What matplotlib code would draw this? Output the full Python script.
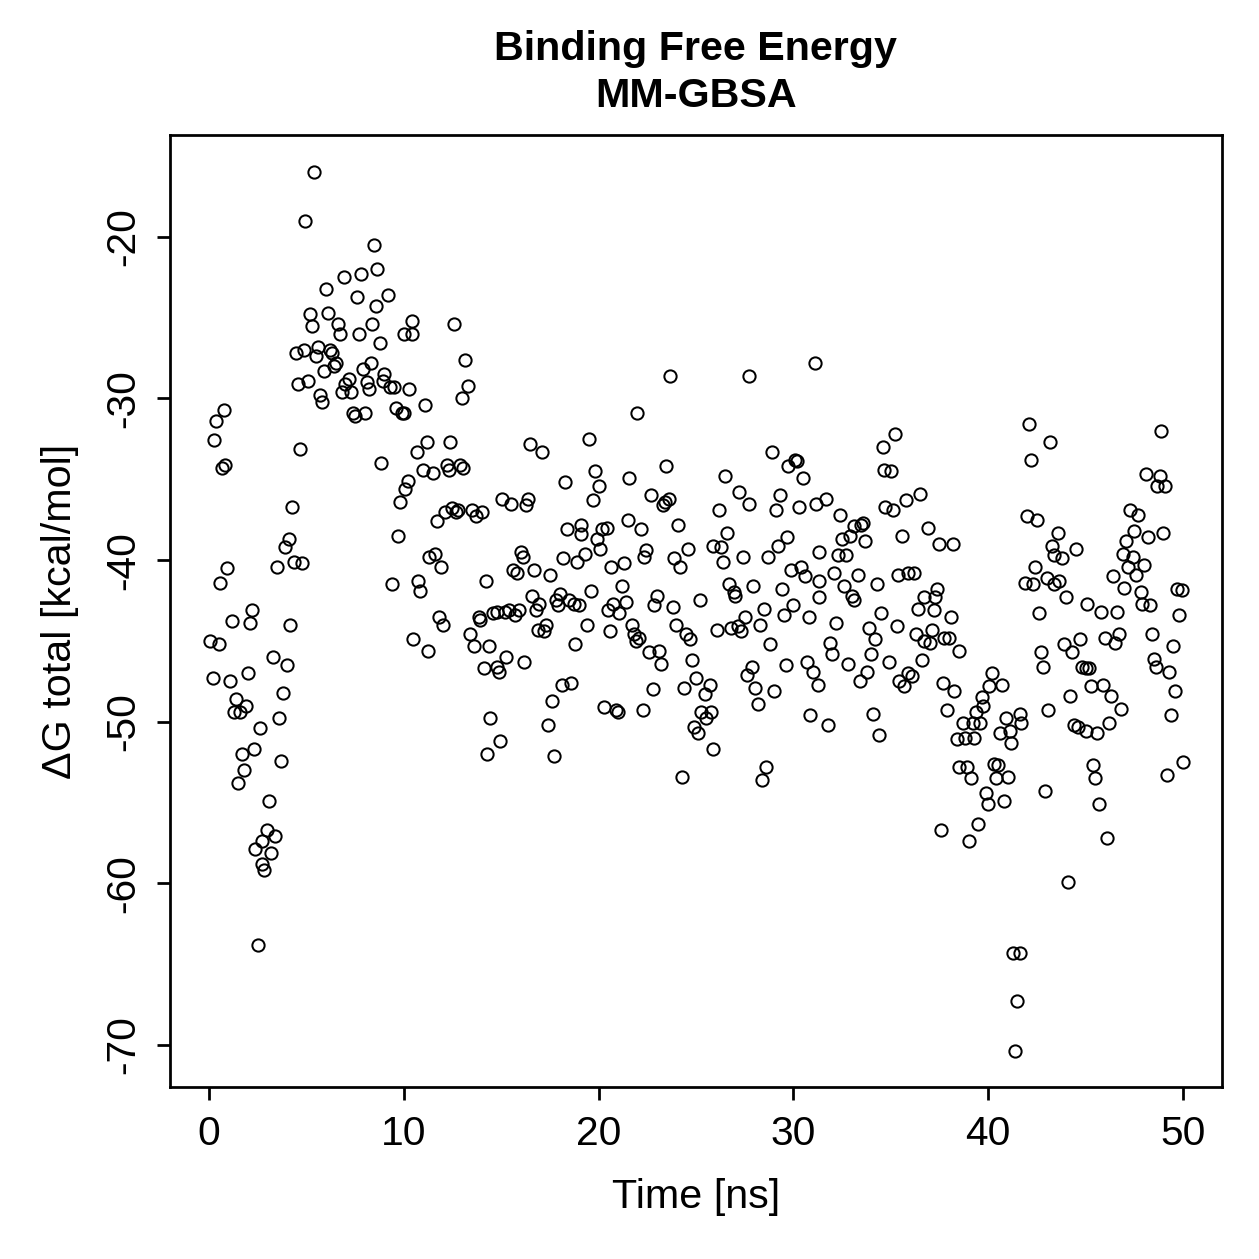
import numpy as np
import matplotlib
matplotlib.use("Agg")
import matplotlib.pyplot as plt

# values (Time in ns, dG in kcal/mol)
time_0_10 = [0.05, 0.2, 0.25, 0.35, 0.5, 0.55, 0.65, 0.75, 0.85, 0.95,
             1.1, 1.2, 1.3, 1.4, 1.5, 1.6, 1.7, 1.8, 1.9, 2.0,
             2.1, 2.2, 2.3, 2.35, 2.5, 2.6, 2.7, 2.75, 2.85, 3.0,
             3.1, 3.2, 3.3, 3.4, 3.5, 3.6, 3.7, 3.8, 3.9, 4.0,
             4.1, 4.15, 4.25, 4.35, 4.45, 4.55, 4.65, 4.8, 4.9, 4.95,
             5.1, 5.2, 5.3, 5.4, 5.5, 5.6, 5.7, 5.8, 5.9, 6.0,
             6.1, 6.2, 6.3, 6.4, 6.5, 6.65, 6.75, 6.85, 6.95, 7.0,
             7.2, 7.3, 7.4, 7.5, 7.6, 7.7, 7.8, 7.9, 8.0, 8.1,
             8.2, 8.3, 8.35, 8.45, 8.6, 8.65, 8.8, 8.85, 8.95, 9.0,
             9.2, 9.3, 9.4, 9.5, 9.6, 9.7, 9.8, 9.9, 10.0, 10.05,
             10.2, 10.25, 10.4, 10.4, 10.5]
dg_0_10 = [-45.0, -47.3, -32.6, -31.4, -45.2, -41.4, -34.3, -30.7, -34.1, -40.5,
           -47.5, -43.8, -49.4, -48.6, -53.8, -49.4, -52.0, -53.0, -49.0, -47.0,
           -43.9, -43.1, -51.7, -57.9, -63.8, -50.4, -57.4, -58.8, -59.2, -56.7,
           -54.9, -58.1, -46.0, -57.1, -40.4, -49.8, -52.4, -48.2, -39.2, -46.5,
           -38.7, -44.0, -36.7, -40.1, -27.2, -29.1, -33.1, -40.2, -27.0, -19.0,
           -28.9, -24.8, -25.5, -16.0, -27.4, -26.8, -29.8, -30.2, -28.3, -23.2,
           -24.7, -27.0, -27.2, -28.0, -27.8, -25.4, -26.0, -29.6, -22.5, -29.1,
           -28.8, -29.6, -30.9, -31.1, -23.7, -26.0, -22.3, -28.2, -30.9, -29.0,
           -29.4, -27.8, -25.4, -20.5, -24.3, -22.0, -26.6, -34.0, -28.9, -28.5,
           -23.6, -29.3, -41.5, -29.3, -30.6, -38.5, -36.4, -30.9, -26.0, -35.6,
           -35.1, -29.4, -25.2, -26.0, -44.9]

time_10_21 = [10.0, 11.1, 13.15, 12.6, 13.3, 13.0, 19.5, 16.5, 17.1, 11.2,
              10.7, 12.4, 11.0, 11.5, 12.2, 12.3, 12.9, 13.05, 19.8, 20.0,
              18.3, 19.7, 15.05, 15.5, 16.4, 16.3, 12.1, 12.5, 12.8, 12.7,
              11.7, 13.5, 14.0, 13.7, 18.4, 19.1, 19.1, 19.9, 20.1, 20.2,
              20.45, 11.6, 11.3, 11.9, 16.0, 16.1, 18.2, 18.9, 19.3, 15.6,
              15.8, 16.7, 17.5, 20.65, 10.75, 10.85, 14.2, 16.6, 16.95, 16.8,
              17.8, 18.0, 17.9, 18.5, 18.75, 19.0, 19.6, 20.75, 20.5, 21.05,
              11.8, 12.0, 13.85, 13.9, 14.6, 14.8, 15.2, 15.4, 15.7, 15.9,
              16.9, 17.2, 17.3, 19.4, 20.6, 13.4, 13.6, 11.25, 14.4, 18.8,
              15.25, 16.2, 14.1, 14.8, 14.9, 18.1, 18.6, 17.6, 20.3, 20.9,
              14.45, 17.4, 14.95, 14.3, 17.7]
dg_10_21 = [-30.9, -30.4, -27.6, -25.4, -29.2, -30.0, -32.5, -32.8, -33.3, -32.7,
            -33.3, -32.7, -34.4, -34.6, -34.1, -34.4, -34.1, -34.3, -34.5, -35.4,
            -35.2, -36.3, -36.2, -36.5, -36.2, -36.6, -37.0, -36.8, -36.9, -37.0,
            -37.6, -36.9, -37.0, -37.3, -38.1, -37.8, -38.4, -38.7, -39.3, -38.1,
            -38.0, -39.6, -39.8, -40.4, -39.5, -39.8, -39.9, -40.1, -39.6, -40.6,
            -40.8, -40.6, -40.9, -40.4, -41.3, -41.9, -41.3, -42.2, -42.7, -43.1,
            -42.5, -42.1, -42.8, -42.5, -42.7, -42.8, -41.9, -42.7, -43.1, -43.3,
            -43.5, -44.0, -43.5, -43.7, -43.3, -43.2, -43.2, -43.1, -43.4, -43.1,
            -44.3, -44.4, -44.0, -44.0, -44.4, -44.6, -45.3, -45.6, -45.3, -45.2,
            -46.0, -46.3, -46.7, -46.6, -46.9, -47.7, -47.6, -48.7, -49.1, -49.3,
            -49.8, -50.2, -51.2, -52.0, -52.1]

time_21_31 = [23.65, 27.75, 31.1, 22.0, 28.9, 30.1, 30.2, 29.75, 30.5, 23.45,
              26.5, 21.55, 22.7, 23.3, 23.4, 23.6, 27.2, 27.7, 29.3, 29.1,
              30.3, 31.15, 26.2, 21.5, 22.2, 24.1, 26.6, 29.7, 29.2, 28.7,
              22.45, 22.35, 23.9, 24.2, 24.6, 25.9, 26.3, 26.4, 27.4, 21.3,
              29.9, 30.4, 30.6, 31.3, 21.2, 21.4, 23.0, 22.85, 23.8, 25.2,
              26.7, 26.95, 27.0, 27.95, 29.4, 30.0, 29.5, 30.8, 31.3, 31.3,
              21.7, 21.8, 21.9, 22.1, 22.6, 23.1, 23.2, 24.0, 24.5, 24.7,
              24.8, 26.1, 26.8, 27.15, 27.3, 27.5, 28.3, 28.5, 28.8, 29.6,
              30.7, 31.0, 31.25, 22.8, 24.4, 25.0, 25.7, 25.45, 27.6, 27.9,
              28.05, 28.2, 29.0, 21.0, 22.3, 25.25, 25.5, 25.75, 24.9, 25.1,
              30.85, 25.9, 24.3, 28.6, 28.4]
dg_21_31 = [-28.6, -28.6, -27.8, -30.9, -33.3, -33.8, -33.9, -34.2, -34.9, -34.2,
            -34.8, -34.9, -36.0, -36.6, -36.4, -36.2, -35.8, -36.5, -36.0, -36.9,
            -36.7, -36.5, -36.9, -37.5, -38.1, -37.8, -38.3, -38.6, -39.1, -39.8,
            -39.4, -39.8, -39.9, -40.4, -39.3, -39.1, -39.2, -40.1, -39.8, -40.2,
            -40.6, -40.4, -41.0, -39.5, -41.6, -42.6, -42.2, -42.8, -42.9, -42.5,
            -41.5, -42.0, -42.2, -41.6, -41.8, -42.8, -43.4, -43.5, -41.3, -42.3,
            -44.0, -44.6, -45.0, -44.8, -45.7, -45.6, -46.4, -44.0, -44.6, -44.9,
            -46.2, -44.3, -44.2, -44.1, -44.4, -43.5, -44.0, -43.0, -45.2, -46.5,
            -46.3, -46.9, -47.7, -48.0, -47.9, -47.3, -47.7, -48.3, -47.1, -46.6,
            -47.9, -48.9, -48.1, -49.4, -49.3, -49.4, -49.8, -49.4, -50.3, -50.7,
            -49.6, -51.7, -53.4, -52.8, -53.6]

time_31_41 = [31.7, 32.4, 35.2, 34.6, 34.65, 35.0, 34.7, 35.1, 35.8, 36.5,
              33.1, 33.45, 33.6, 32.9, 32.5, 33.7, 35.6, 36.9, 37.5, 38.2,
              32.3, 32.7, 32.1, 33.3, 34.3, 35.35, 35.9, 36.2, 32.6, 33.0,
              33.1, 32.2, 34.5, 36.7, 37.4, 37.25, 36.4, 37.2, 38.1, 33.9,
              34.2, 34.0, 35.3, 36.3, 36.7, 37.0, 37.1, 37.75, 38.0, 31.9,
              32.0, 38.5, 32.8, 33.8, 33.4, 34.9, 36.6, 35.45, 35.9, 36.1,
              35.7, 37.7, 38.25, 40.2, 40.05, 40.7, 39.7, 39.75, 39.4, 39.6,
              38.7, 39.2, 37.9, 40.9, 41.1, 40.6, 41.2, 41.65, 31.8, 34.1,
              34.4, 38.4, 38.8, 39.3, 38.5, 38.9, 39.1, 40.3, 40.5, 40.4,
              41.0, 39.9, 40.0, 40.8, 39.5, 37.6, 39.0]
dg_31_41 = [-36.2, -37.2, -32.2, -33.0, -34.4, -34.5, -36.7, -36.9, -36.3, -35.9,
            -37.9, -37.8, -37.7, -38.5, -38.7, -38.8, -38.5, -38.0, -39.0, -39.0,
            -39.7, -39.7, -40.8, -40.9, -41.5, -40.9, -40.8, -40.8, -41.6, -42.2,
            -42.5, -43.9, -43.3, -42.3, -41.8, -42.3, -43.0, -43.1, -43.5, -44.2,
            -44.9, -45.8, -44.1, -44.6, -45.0, -45.1, -44.3, -44.8, -44.8, -45.1,
            -45.8, -45.6, -46.4, -46.9, -47.5, -46.3, -46.2, -47.5, -47.0, -47.2,
            -47.8, -47.6, -48.1, -47.0, -47.8, -47.7, -48.5, -49.0, -49.4, -50.1,
            -50.1, -50.1, -49.3, -49.8, -50.6, -50.7, -51.3, -49.5, -50.2, -49.5,
            -50.8, -51.1, -51.0, -51.0, -52.8, -52.8, -53.5, -52.6, -52.7, -53.5,
            -53.4, -54.4, -55.1, -54.9, -56.3, -56.7, -57.4]

time_41_50 = [42.1, 43.2, 42.2, 48.9, 48.1, 48.8, 48.65, 49.1, 42.0, 42.5,
              43.6, 43.3, 43.4, 43.8, 44.5, 42.4, 41.9, 42.3, 43.0, 43.4,
              43.65, 44.0, 42.6, 47.3, 47.7, 47.5, 47.1, 48.2, 49.0, 46.9,
              47.45, 47.2, 47.6, 48.0, 46.4, 47.0, 47.85, 47.9, 48.3, 49.7,
              49.95, 49.8, 45.1, 45.8, 46.6, 42.7, 42.8, 43.9, 44.3, 44.7,
              44.8, 45.0, 45.2, 46.0, 46.5, 46.7, 48.4, 48.5, 48.6, 49.3,
              49.5, 45.3, 45.9, 46.3, 46.8, 46.2, 45.6, 45.0, 44.6, 44.4,
              44.2, 43.1, 49.6, 49.4, 41.7, 42.9, 45.4, 45.5, 45.7, 46.1,
              49.2, 50.0, 44.1, 41.3, 41.65, 41.5, 41.4]
dg_41_50 = [-31.6, -32.7, -33.8, -32.0, -34.7, -34.8, -35.4, -35.4, -37.3, -37.5,
            -38.3, -39.1, -39.7, -39.9, -39.3, -40.4, -41.4, -41.5, -41.1, -41.5,
            -41.3, -42.3, -43.3, -36.9, -37.2, -38.2, -38.8, -38.6, -38.3, -39.6,
            -39.8, -40.4, -40.9, -40.3, -41.0, -41.7, -42.0, -42.7, -42.8, -41.8,
            -41.85, -43.4, -42.7, -43.2, -43.2, -45.7, -46.6, -45.2, -45.7, -44.9,
            -46.6, -46.7, -46.7, -44.8, -45.1, -44.6, -44.6, -46.1, -46.6, -46.9,
            -45.3, -47.8, -47.7, -48.4, -49.2, -50.1, -50.7, -50.6, -50.3, -50.2,
            -48.4, -49.3, -48.1, -49.6, -50.1, -54.3, -52.7, -53.5, -55.1, -57.2,
            -53.3, -52.5, -59.9, -64.3, -64.3, -67.3, -70.4]

time_ns = np.array(time_0_10 + time_10_21 + time_21_31 + time_31_41 + time_41_50)
dg_total = np.array(dg_0_10 + dg_10_21 + dg_21_31 + dg_31_41 + dg_41_50)

plt.rcParams['font.family'] = ['Liberation Sans', 'DejaVu Sans']
plt.rcParams['axes.unicode_minus'] = False

fig = plt.figure(figsize=(1259 / 180, 1259 / 180), dpi=180)
ax = fig.add_axes([0.135, 0.1366, 0.8355, 0.7562])

ax.plot(time_ns, dg_total, linestyle='none', marker='o', markersize=4.9,
        markerfacecolor='none', markeredgecolor='black', markeredgewidth=0.8)

ax.set_xlim(-2, 52)
ax.set_ylim(-72.6, -13.7)
ax.set_xticks([0, 10, 20, 30, 40, 50])
ax.set_yticks([-70, -60, -50, -40, -30, -20])
ax.tick_params(direction='out', length=5.2, width=1.1, labelsize=16.3, pad=6)
plt.setp(ax.get_yticklabels(), rotation=90, va='center')
for s in ax.spines.values():
    s.set_linewidth(1.1)

ax.set_xlabel('Time [ns]', fontsize=16.5, labelpad=10)
ax.set_ylabel('ΔG total [kcal/mol]', fontsize=16.5, labelpad=10)
ax.set_title('Binding Free Energy\nMM-GBSA', fontsize=16.5, fontweight='bold',
             linespacing=1.3, pad=11)

fig.savefig('out.png', dpi=180)
